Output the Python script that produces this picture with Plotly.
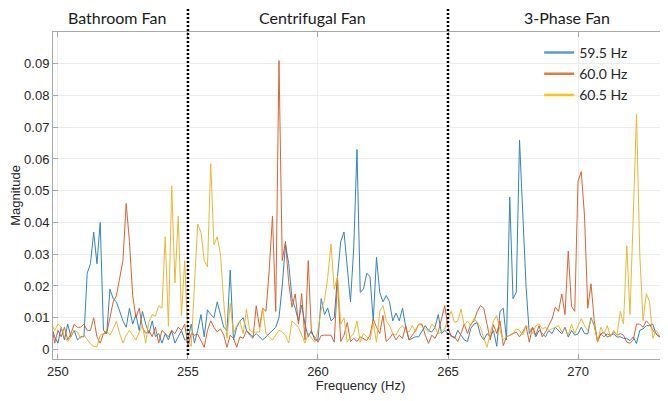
import numpy as np
import plotly.graph_objects as go

# ---------------- data ----------------
freq_start = 249.75   # Hz, first sample
freq_step = 0.125     # Hz between samples

series_names = ["59.5 Hz", "60.0 Hz", "60.5 Hz"]

mag_59_5 = [
    0.007, 0.004,
    0.002, 0.007, 0.003, 0.008, 0.004, 0.006, 0.003, 0.004,      # 250
    0.004, 0.024, 0.027, 0.037, 0.027, 0.040, 0.006, 0.005,      # 251
    0.019, 0.016, 0.015, 0.012, 0.009, 0.007, 0.013, 0.008,      # 252
    0.011, 0.006, 0.012, 0.008, 0.005, 0.009, 0.004, 0.005,      # 253
    0.002, 0.005, 0.003, 0.006, 0.002, 0.004, 0.006, 0.003,      # 254
    0.003, 0.008, 0.002, 0.006, 0.011, 0.004, 0.0125, 0.011,     # 255
    0.010, 0.015, 0.011, 0.007, 0.006, 0.025, 0.003, 0.007,      # 256
    0.009, 0.010, 0.006, 0.005, 0.004, 0.005, 0.004, 0.003,      # 257
    0.004, 0.005, 0.006, 0.007, 0.010, 0.020, 0.033, 0.027,      # 258
    0.016, 0.013, 0.009, 0.014, 0.008, 0.004, 0.006, 0.003,      # 259
    0.003, 0.016, 0.011, 0.013, 0.009, 0.010, 0.023, 0.034,      # 260
    0.037, 0.025, 0.015, 0.032, 0.063, 0.018, 0.019, 0.024,      # 261
    0.023, 0.009, 0.029, 0.018, 0.015, 0.017, 0.015, 0.009,      # 262
    0.0115, 0.009, 0.013, 0.007, 0.003, 0.0035, 0.004, 0.004,    # 263
    0.006, 0.0075, 0.006, 0.0055, 0.007, 0.011, 0.005, 0.006,    # 264
    0.005, 0.0045, 0.0035, 0.006, 0.0045, 0.003, 0.0025, 0.0066, # 265
    0.008, 0.0085, 0.0045, 0.003, 0.005, 0.004, 0.006, 0.001,    # 266
    0.012, 0.013, 0.003, 0.048, 0.016, 0.018, 0.066, 0.040,      # 267
    0.020, 0.005, 0.007, 0.004, 0.006, 0.005, 0.004, 0.006,      # 268
    0.005, 0.007, 0.006, 0.0049, 0.007, 0.0039, 0.006, 0.0045,   # 269
    0.0049, 0.007, 0.005, 0.0049, 0.010, 0.0075, 0.0028, 0.0049, # 270
    0.0055, 0.0039, 0.0045, 0.0049, 0.0039, 0.004, 0.0035, 0.0035, # 271
    0.0028, 0.0039, 0.0019, 0.006, 0.0065, 0.0075, 0.0075, 0.008,  # 272
    0.0049, 0.004, 0.0049, 0.006, 0.005,                           # 273
]

mag_60_0 = [
    0.008, 0.002,
    0.006, 0.004, 0.007, 0.003, 0.005, 0.008, 0.007, 0.007,      # 250
    0.008, 0.006, 0.006, 0.010, 0.004, 0.002, 0.005, 0.005,      # 251
    0.010, 0.015, 0.017, 0.022, 0.028, 0.046, 0.034, 0.017,      # 252
    0.010, 0.013, 0.007, 0.005, 0.006, 0.004, 0.007, 0.002,      # 253
    0.006, 0.005, 0.004, 0.006, 0.005, 0.007, 0.006, 0.008,      # 254
    0.001, 0.005, 0.0045, 0.0048, 0.0028, 0.0007, 0.006, 0.009,  # 255
    0.007, 0.0055, 0.0065, 0.0045, 0.0007, 0.0045, 0.0035, 0.0007, # 256
    0.004, 0.0035, 0.006, 0.0045, 0.0035, 0.0138, 0.007, 0.013,  # 257
    0.012, 0.025, 0.042, 0.012, 0.091, 0.028, 0.034, 0.021,      # 258
    0.0133, 0.0175, 0.008, 0.0176, 0.003, 0.028, 0.005, 0.004,   # 259
    0.0023, 0.0044, 0.0045, 0.0044, 0.0045, 0.0023, 0.022, 0.0025, # 260
    0.0045, 0.0085, 0.0025, 0.0035, 0.0025, 0.004, 0.0035, 0.0028, # 261
    0.0045, 0.0096, 0.007, 0.005, 0.0107, 0.0025, 0.0035, 0.005,   # 262
    0.003, 0.0045, 0.0035, 0.0075, 0.003, 0.0045, 0.006, 0.008,    # 263
    0.008, 0.0045, 0.0019, 0.0045, 0.0035, 0.0055, 0.0096, 0.0138, # 264
    0.007, 0.004, 0.004, 0.0025, 0.005, 0.008, 0.005, 0.008,       # 265
    0.009, 0.012, 0.0138, 0.013, 0.008, 0.003, 0.0078, 0.005,      # 266
    0.009, 0.0012, 0.004, 0.0045, 0.005, 0.0055, 0.004, 0.0055,    # 267
    0.0075, 0.0023, 0.007, 0.0045, 0.0075, 0.004, 0.0055, 0.0075,  # 268
    0.0096, 0.0133, 0.012, 0.0175, 0.011, 0.031, 0.0135, 0.012,    # 269
    0.053, 0.056, 0.042, 0.013, 0.0207, 0.009, 0.0023, 0.005,      # 270
    0.004, 0.0049, 0.0045, 0.0055, 0.0045, 0.005, 0.0045, 0.0023,  # 271
    0.002, 0.003, 0.008, 0.008, 0.007, 0.009, 0.008, 0.006,        # 272
    0.0049, 0.004, 0.005, 0.0055, 0.0055,                          # 273
]

mag_60_5 = [
    0.008, 0.006,
    0.008, 0.007, 0.004, 0.0025, 0.004, 0.006, 0.0055, 0.0035,   # 250
    0.0045, 0.003, 0.0018, 0.001, 0.0008, 0.0045, 0.005, 0.006,  # 251
    0.0045, 0.0065, 0.0088, 0.005, 0.002, 0.0045, 0.006, 0.0045, # 252
    0.003, 0.0055, 0.0075, 0.002, 0.0088, 0.011, 0.0105, 0.0138, # 253
    0.013, 0.0355, 0.0073, 0.0516, 0.021, 0.042, 0.0107, 0.028,  # 254
    0.003, 0.001, 0.020, 0.0395, 0.037, 0.028, 0.026, 0.0585,    # 255
    0.033, 0.0355, 0.030, 0.015, 0.0035, 0.0145, 0.005, 0.0075,  # 256
    0.009, 0.005, 0.0127, 0.006, 0.0055, 0.0055, 0.0055, 0.013,  # 257
    0.005, 0.004, 0.003, 0.0045, 0.006, 0.0055, 0.0045, 0.002,   # 258
    0.009, 0.008, 0.007, 0.0045, 0.002, 0.005, 0.0035, 0.0023,   # 259
    0.006, 0.0127, 0.0154, 0.0227, 0.0332, 0.019, 0.023, 0.008,  # 260
    0.010, 0.0023, 0.004, 0.005, 0.009, 0.0023, 0.005, 0.004,    # 261
    0.003, 0.0085, 0.0023, 0.012, 0.0138, 0.009, 0.0075, 0.005,  # 262
    0.0045, 0.0065, 0.0075, 0.006, 0.0055, 0.0075, 0.0055, 0.008, # 263
    0.0075, 0.0065, 0.0055, 0.008, 0.007, 0.005, 0.0055, 0.0065, # 264
    0.0097, 0.012, 0.0085, 0.009, 0.0127, 0.0075, 0.009, 0.0075, # 265
    0.0097, 0.0085, 0.007, 0.0035, 0.0007, 0.005, 0.009, 0.0107, # 266
    0.006, 0.003, 0.004, 0.0045, 0.005, 0.0065, 0.006, 0.0045,   # 267
    0.0075, 0.0065, 0.005, 0.0075, 0.008, 0.0065, 0.007, 0.006,  # 268
    0.0065, 0.007, 0.0075, 0.0055, 0.0065, 0.0045, 0.008, 0.005, # 269
    0.0075, 0.0097, 0.0075, 0.006, 0.0097, 0.008, 0.0023, 0.007, # 270
    0.005, 0.0075, 0.004, 0.006, 0.0045, 0.012, 0.008, 0.0327,   # 271
    0.011, 0.040, 0.074, 0.030, 0.009, 0.0176, 0.015, 0.0035,    # 272
    0.006, 0.0045, 0.003, 0.005, 0.0055,                         # 273
]

section_labels = ["Bathroom Fan", "Centrifugal Fan", "3-Phase Fan"]
section_bounds = [255, 265]

x_ticks = [250, 255, 260, 265, 270]
y_ticks = [0, 0.01, 0.02, 0.03, 0.04, 0.05, 0.06, 0.07, 0.08, 0.09]
y_tick_text = ["0", "0.01", "0.02", "0.03", "0.04", "0.05", "0.06", "0.07", "0.08", "0.09"]

# ---------------- styling ----------------
line_colors = ["#1f77b8", "#d9541c", "#ebb020"]
legend_colors = ["#5b9bd5", "#e07a3f", "#ffc20e"]
label_pos = [252.27, 259.77, 269.56]

series = [mag_59_5, mag_60_0, mag_60_5]
freq = freq_start + freq_step * np.arange(len(mag_59_5))

fig = go.Figure()
for vals, col in zip(series, line_colors):
    fig.add_trace(go.Scatter(x=freq, y=vals, mode="lines",
                             line=dict(color=col, width=1),
                             opacity=0.9, showlegend=False, hoverinfo="skip"))
for name, col in zip(series_names, legend_colors):
    fig.add_trace(go.Scatter(x=[None], y=[None], mode="lines", name=name,
                             line=dict(color=col, width=2.5)))

axis_font = dict(family="Liberation Sans, Arial, sans-serif", size=13, color="#262626")
axis_common = dict(showgrid=True, gridcolor="#ececec", gridwidth=1,
                   showline=True, linecolor="#a8a8a8", linewidth=1,
                   mirror="ticks", ticks="inside", ticklen=5, tickcolor="#a8a8a8",
                   zeroline=False, tickfont=axis_font, automargin=False)

# the page body adds an 8px offset; the figure is sized so that the page does not scroll
fig.update_layout(
    template="none",
    width=660, height=385,
    margin=dict(l=45, r=0, t=24, b=34, pad=0),
    paper_bgcolor="white", plot_bgcolor="white",
    xaxis=dict(range=[249.81, 273.46], tickvals=x_ticks,
               title=dict(text="Frequency (Hz)", standoff=4, font=axis_font),
               **axis_common),
    yaxis=dict(range=[-0.003, 0.1], tickvals=y_ticks, ticktext=y_tick_text,
               title=dict(text="Magnitude", standoff=3, font=axis_font),
               **axis_common),
    legend=dict(x=0.7905, y=0.985, xanchor="left", yanchor="top",
                bgcolor="rgba(0,0,0,0)", borderwidth=0,
                font=dict(family="Lato, sans-serif", size=14, color="#262626")),
    showlegend=True,
)

for b in section_bounds:
    fig.add_shape(type="line", xref="x", yref="paper", x0=b, x1=b, y0=0.012, y1=1.08,
                  line=dict(color="black", width=2.5, dash="2px,2px"), layer="above")

for txt, xp in zip(section_labels, label_pos):
    fig.add_annotation(x=xp, xref="x", y=1.043, yref="paper", text=txt, showarrow=False,
                       xanchor="center", yanchor="middle",
                       font=dict(family="Lato, sans-serif", size=16, color="#1a1a1a"))

fig.write_html("out.html")
